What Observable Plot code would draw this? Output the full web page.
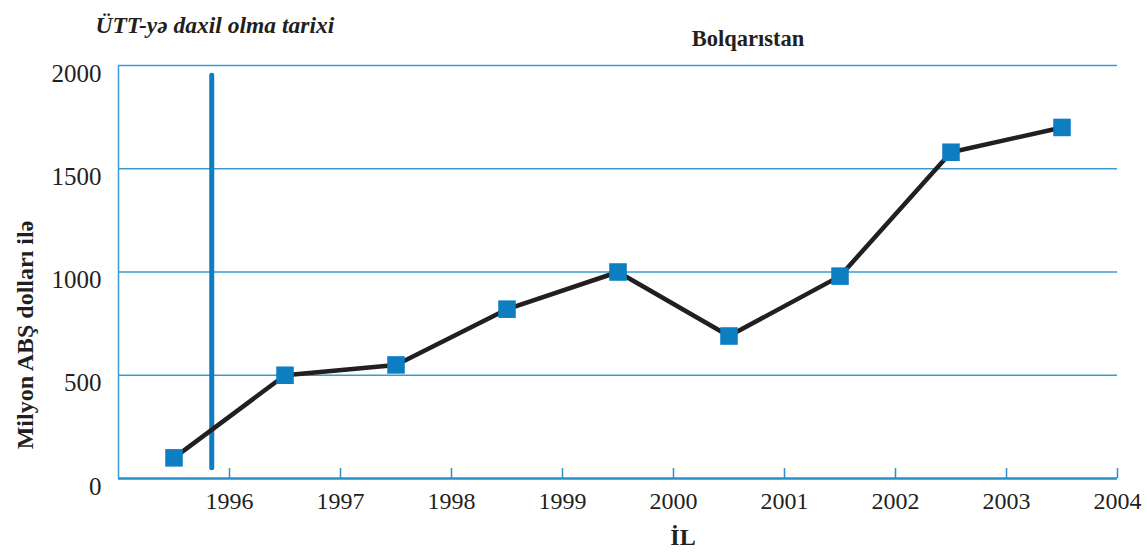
<!DOCTYPE html>
<html>
<head>
<meta charset="utf-8">
<script src="https://cdn.jsdelivr.net/npm/d3@7"></script>
<script src="https://cdn.jsdelivr.net/npm/@observablehq/plot@0.6"></script>
<style>
  html, body { margin: 0; padding: 0; background: #fff; }
  svg { display: block; }
  #chart svg, #chart svg text { font-family: "Liberation Serif", "Times New Roman", serif !important; }
</style>
</head>
<body>
<div id="chart"></div>
<script>
// Data
const years = [1995, 1996, 1997, 1998, 1999, 2000, 2001, 2002, 2003];
const values = [100, 500, 550, 820, 1000, 690, 980, 1580, 1700];
const tickYears = [1996, 1997, 1998, 1999, 2000, 2001, 2002, 2003, 2004];
const yTicks = [0, 500, 1000, 1500, 2000];
const gridValues = [500, 1000, 1500, 2000];
const accessionYear = [1995.84];
const accessionSpan = [50, 1950];

const title = "ÜTT-yə daxil olma tarixi";
const country = "Bolqarıstan";
const yLabel = "Milyon ABŞ dolları ilə";
const xLabel = "İL";

const data = years.map((y, i) => ({year: y, value: values[i]}));

const serif = "Liberation Serif";
const gridBlue = "#3b9bd1";
const axisBlue = "#2a8ec9";
const markBlue = "#0c7ec1";
const ink = "#231f20";

const chart = Plot.plot({
  width: 1147,
  height: 560,
  marginLeft: 118,
  marginRight: 30,
  marginTop: 65,
  marginBottom: 82,
  style: {fontFamily: serif, color: ink, background: "#fff"},
  x: {domain: [1995, 2004]},
  y: {domain: [0, 2000]},
  marks: [
    Plot.ruleY(gridValues, {stroke: gridBlue, strokeWidth: 1.5}),
    Plot.ruleX([1995], {stroke: gridBlue, strokeWidth: 1.5}),
    Plot.ruleY([0], {stroke: axisBlue, strokeWidth: 2.5}),
    Plot.ruleX(tickYears, {y1: 0, y2: 48, stroke: axisBlue, strokeWidth: 1.5}),
    Plot.axisY({ticks: yTicks, tickSize: 0, tickPadding: 17, fontSize: 25, dy: 8, label: null, tickFormat: d => String(d)}),
    Plot.axisX({ticks: tickYears, tickSize: 0, tickPadding: 13, fontSize: 24, label: null, tickFormat: d => String(d)}),
    Plot.ruleX(accessionYear, {y1: accessionSpan[0], y2: accessionSpan[1], stroke: markBlue, strokeWidth: 5, strokeLinecap: "round"}),
    Plot.line(data, {x: d => d.year + 0.5, y: "value", stroke: ink, strokeWidth: 4.5}),
    Plot.dot(data, {x: d => d.year + 0.5, y: "value", symbol: "square", r: 9.9, fill: markBlue, stroke: "none"}),
    Plot.text([title], {frameAnchor: "top-left", textAnchor: "start", dx: -23, dy: -49, fontSize: 23.5, fontWeight: "bold", fontStyle: "italic", fill: ink}),
    Plot.text([country], {frameAnchor: "top", dx: 130, dy: -35, fontSize: 22.5, fontWeight: "bold", fill: ink}),
    Plot.text([xLabel], {frameAnchor: "bottom", dx: 65, dy: 66, fontSize: 24, fontWeight: "bold", fill: ink}),
    Plot.text([yLabel], {frameAnchor: "left", textAnchor: "middle", rotate: -90, dx: -93, dy: 63, fontSize: 24, fontWeight: "bold", fill: ink})
  ]
});
document.getElementById("chart").appendChild(chart);
</script>
</body>
</html>
